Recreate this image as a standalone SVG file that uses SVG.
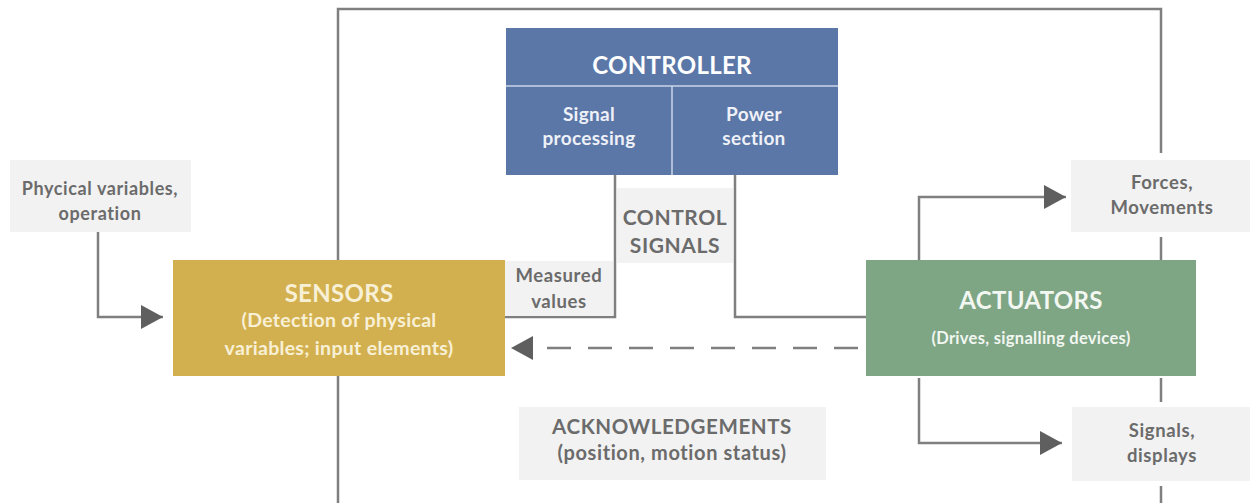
<svg xmlns="http://www.w3.org/2000/svg" width="1250" height="503" viewBox="0 0 1250 503">
  <style>
    .wire { fill: none; stroke: #7f7f7f; stroke-width: 2.5; }
    .dash { fill: none; stroke: #7f7f7f; stroke-width: 2.5; stroke-dasharray: 24 17; }
    .label { fill: #f2f2f2; }
    .lt { font-family: Lato, "Liberation Sans", sans-serif; font-weight: bold; fill: #6b6b6b; text-anchor: middle; letter-spacing: 0.6px; }
    .wt { font-family: Lato, "Liberation Sans", sans-serif; font-weight: bold; text-anchor: middle; letter-spacing: 0.3px; }
  </style>
  <defs>
    <marker id="arrow" viewBox="0 0 22 24" refX="22" refY="12" markerWidth="22" markerHeight="24" markerUnits="userSpaceOnUse" orient="auto">
      <path d="M0,0 L22,12 L0,24 Z" fill="#5f5f5f"/>
    </marker>
  </defs>
  <rect width="1250" height="503" fill="#ffffff"/>

  <!-- connectors -->
  <g id="connectors">
    <!-- outer loop frame -->
    <polyline class="wire" points="338,260 338,9 1161,9 1161,153"/>
    <line class="wire" x1="338" y1="376" x2="338" y2="503"/>
    <line class="wire" x1="1161" y1="237" x2="1161" y2="260"/>
    <line class="wire" x1="1161" y1="378" x2="1161" y2="402"/>
    <line class="wire" x1="1161" y1="486" x2="1161" y2="503"/>
    <!-- input variables to sensors -->
    <polyline class="wire" points="98,232 98,317 163,317" marker-end="url(#arrow)"/>
    <!-- signal processing to sensors (measured values) -->
    <polyline class="wire" points="615,175 615,317 504,317"/>
    <!-- power section to actuators -->
    <polyline class="wire" points="735,175 735,317 866,317"/>
    <!-- acknowledgement feedback -->
    <line class="dash" x1="858" y1="348" x2="533" y2="348"/>
    <path d="M533,336 L511,348 L533,360 Z" fill="#5f5f5f"/>
    <!-- actuators outputs -->
    <polyline class="wire" points="919,260 919,197 1066,197" marker-end="url(#arrow)"/>
    <polyline class="wire" points="919,378 919,443 1062,443" marker-end="url(#arrow)"/>
  </g>

  <g id="physical-variables">
    <rect class="label" x="10" y="160" width="181" height="72"/>
    <text class="lt" x="100" y="195" font-size="18">Phycical variables,</text>
    <text class="lt" x="100" y="220" font-size="18">operation</text>
  </g>

  <g id="controller">
    <rect x="506" y="28" width="332" height="147" fill="#5b77a8"/>
    <line x1="506" y1="86" x2="838" y2="86" stroke="#c9d4e8" stroke-width="1.5"/>
    <line x1="672" y1="86" x2="672" y2="175" stroke="#c9d4e8" stroke-width="1.5"/>
    <text class="wt" x="672" y="74" font-size="24" fill="#ffffff">CONTROLLER</text>
    <text class="wt" x="589" y="121" font-size="19" fill="#eef1f7">Signal</text>
    <text class="wt" x="589" y="145" font-size="19" fill="#eef1f7">processing</text>
    <text class="wt" x="754" y="121" font-size="19" fill="#eef1f7">Power</text>
    <text class="wt" x="754" y="145" font-size="19" fill="#eef1f7">section</text>
  </g>

  <g id="control-signals">
    <rect class="label" x="617" y="188" width="116" height="75"/>
    <text class="lt" x="675" y="225" font-size="21">CONTROL</text>
    <text class="lt" x="675" y="253" font-size="21">SIGNALS</text>
  </g>

  <g id="measured-values">
    <rect class="label" x="505" y="261" width="108" height="55"/>
    <text class="lt" x="559" y="282" font-size="18.5">Measured</text>
    <text class="lt" x="559" y="308" font-size="18.5">values</text>
  </g>

  <g id="sensors">
    <rect x="173" y="260" width="332" height="116" fill="#d3b04f"/>
    <text class="wt" x="339" y="302" font-size="24" fill="#f8f0d6">SENSORS</text>
    <text class="wt" x="339" y="327" font-size="19.5" fill="#f8f0d6">(Detection of physical</text>
    <text class="wt" x="339" y="355" font-size="19.5" fill="#f8f0d6">variables; input elements)</text>
  </g>

  <g id="actuators">
    <rect x="866" y="260" width="330" height="116" fill="#7ea584"/>
    <text class="wt" x="1031" y="309" font-size="24" fill="#f2f7f2">ACTUATORS</text>
    <text class="wt" x="1031" y="344" font-size="16.5" fill="#f2f7f2">(Drives, signalling devices)</text>
  </g>

  <g id="forces">
    <rect class="label" x="1071" y="160" width="179" height="72"/>
    <text class="lt" x="1162" y="189" font-size="18.5">Forces,</text>
    <text class="lt" x="1162" y="214" font-size="18.5">Movements</text>
  </g>

  <g id="signals">
    <rect class="label" x="1072" y="407" width="178" height="74"/>
    <text class="lt" x="1162" y="437" font-size="18.5">Signals,</text>
    <text class="lt" x="1162" y="462" font-size="18.5">displays</text>
  </g>

  <g id="acknowledgements">
    <rect class="label" x="519" y="407" width="307" height="73"/>
    <text class="lt" x="672" y="434" font-size="20.5">ACKNOWLEDGEMENTS</text>
    <text class="lt" x="672" y="460" font-size="20">(position, motion status)</text>
  </g>
</svg>
